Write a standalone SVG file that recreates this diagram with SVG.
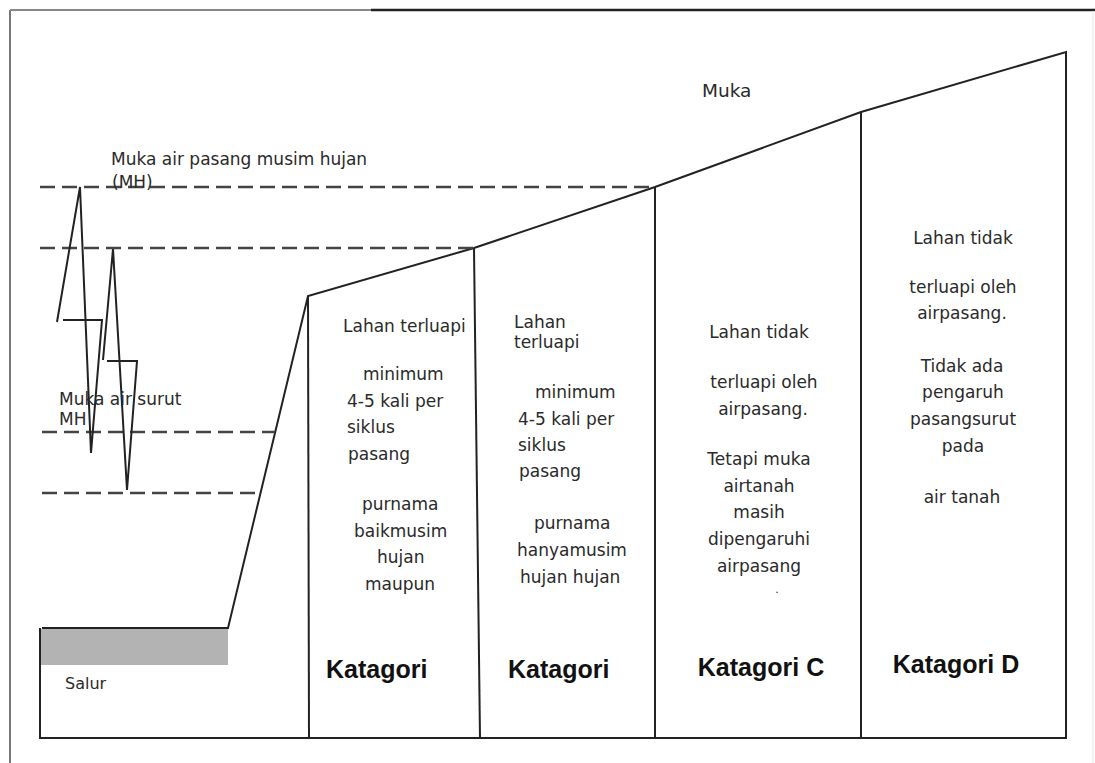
<svg xmlns="http://www.w3.org/2000/svg" width="1095" height="763" viewBox="0 0 1095 763">
<style>
.t{font-family:"DejaVu Sans","Liberation Sans",sans-serif;font-size:17px;fill:#2a2a2a}
.k{font-family:"Liberation Sans",Arial,sans-serif;font-size:25px;font-weight:bold;fill:#111}
.ln{stroke:#222;stroke-width:2;fill:none;stroke-linejoin:miter}
.ds{stroke:#444;stroke-width:2.5;stroke-dasharray:15 7;fill:none}
</style>
<rect width="1095" height="763" fill="#fff"/>
<g id="frame">
<line x1="10" y1="10" x2="10" y2="763" stroke="#777" stroke-width="2"/>
<line x1="10" y1="10" x2="371" y2="10" stroke="#888" stroke-width="2"/>
<line x1="371" y1="10" x2="1095" y2="10" stroke="#222" stroke-width="2.5"/>
<line x1="1093" y1="11" x2="1093" y2="763" stroke="#eee" stroke-width="1.5"/>
</g>
<g id="connectors">
<rect x="41" y="629" width="187" height="36" fill="#b3b3b3"/>
<polyline class="ln" points="40,628 40,738 1066,738 1066,52 861,112 655,187 474,248 308,296 228,628 42,628"/>
<line class="ln" x1="308" y1="296" x2="309" y2="738"/>
<line class="ln" x1="474" y1="248" x2="480" y2="738"/>
<line class="ln" x1="655" y1="187" x2="655" y2="738"/>
<line class="ln" x1="861" y1="112" x2="861" y2="738"/>
<line class="ds" x1="40" y1="187" x2="655" y2="187"/>
<line class="ds" x1="40" y1="248" x2="474" y2="248"/>
<line class="ds" x1="42" y1="432" x2="275" y2="432"/>
<line class="ds" x1="42" y1="493" x2="260" y2="493"/>
<polyline class="ln" points="57,322 80,187 91,453 102,320"/>
<line class="ln" x1="63" y1="320" x2="103" y2="320"/>
<polyline class="ln" points="103,360 113,249 127,490 137,361"/>
<line class="ln" x1="107" y1="361" x2="138" y2="361"/>
</g>
<g id="labels-left">
<text class="t" x="111" y="165">Muka air pasang musim hujan</text>
<text class="t" x="112" y="188">(MH)</text>
<text class="t" x="59" y="405">Muka air surut</text>
<text class="t" x="59" y="425">MH</text>
<text class="t" x="65" y="689" style="font-size:16px">Salur</text>
<text class="t" x="702" y="97" style="font-size:18.5px">Muka</text>
</g>
<g id="kat-a">
<text class="t" x="343" y="332">Lahan terluapi</text>
<text class="t" x="363" y="380">minimum</text>
<text class="t" x="347" y="407">4-5 kali per</text>
<text class="t" x="347" y="433">siklus</text>
<text class="t" x="348" y="460">pasang</text>
<text class="t" x="362" y="510">purnama</text>
<text class="t" x="354" y="537">baikmusim</text>
<text class="t" x="377" y="563">hujan</text>
<text class="t" x="365" y="590">maupun</text>
<text class="k" x="326" y="678">Katagori</text>
</g>
<g id="kat-b">
<text class="t" x="514" y="328">Lahan</text>
<text class="t" x="514" y="348">terluapi</text>
<text class="t" x="535" y="398">minimum</text>
<text class="t" x="518" y="425">4-5 kali per</text>
<text class="t" x="518" y="451">siklus</text>
<text class="t" x="519" y="477">pasang</text>
<text class="t" x="534" y="529">purnama</text>
<text class="t" x="517" y="556">hanyamusim</text>
<text class="t" x="520" y="583">hujan hujan</text>
<text class="k" x="508" y="678">Katagori</text>
</g>
<g id="kat-c" text-anchor="middle">
<text class="t" x="759" y="338">Lahan tidak</text>
<text class="t" x="764" y="388">terluapi oleh</text>
<text class="t" x="763" y="415">airpasang.</text>
<text class="t" x="759" y="465">Tetapi muka</text>
<text class="t" x="759" y="492">airtanah</text>
<text class="t" x="759" y="518">masih</text>
<text class="t" x="759" y="545">dipengaruhi</text>
<text class="t" x="759" y="572">airpasang</text>
<text class="t" x="777" y="593" style="font-size:11px">.</text>
<text class="k" x="761" y="676">Katagori C</text>
</g>
<g id="kat-d" text-anchor="middle">
<text class="t" x="963" y="244">Lahan tidak</text>
<text class="t" x="963" y="293">terluapi oleh</text>
<text class="t" x="962" y="319">airpasang.</text>
<text class="t" x="962" y="372">Tidak ada</text>
<text class="t" x="963" y="398">pengaruh</text>
<text class="t" x="963" y="425">pasangsurut</text>
<text class="t" x="963" y="452">pada</text>
<text class="t" x="962" y="503">air tanah</text>
<text class="k" x="956" y="673">Katagori D</text>
</g>
</svg>
